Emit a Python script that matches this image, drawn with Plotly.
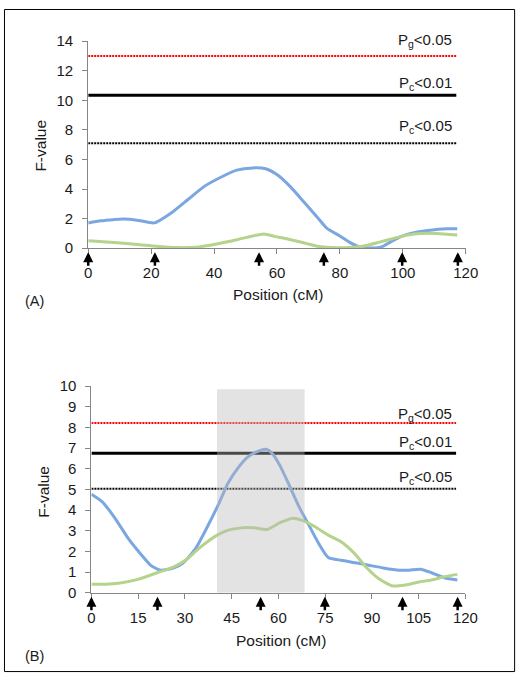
import plotly.graph_objects as go

# ---------------- data ----------------
# Panel A
posA_blue = [0, 4, 8, 11, 16, 21, 26.5, 31.8, 36.9, 42, 47.2, 52.3, 56.4, 60.5, 64.6, 68.7,
             72.8, 75.9, 80, 83.1, 86.2, 90.2, 93.3, 96.4, 100, 103.6, 108.7, 113.8, 117.3]
fA_blue = [1.71, 1.85, 1.93, 1.97, 1.88, 1.71, 2.4, 3.31, 4.18, 4.78, 5.28, 5.43, 5.37, 4.9, 4.08, 3.09,
           2.1, 1.34, 0.83, 0.39, 0.09, 0.02, 0.09, 0.46, 0.83, 1.05, 1.22, 1.31, 1.31]
posA_green = [0, 8.2, 16.4, 21.5, 28.5, 34.6, 40.8, 47.2, 52.3, 55.9, 59.5, 62.6, 68.7, 72.8, 77,
              83.1, 87.2, 92.3, 97.4, 101.5, 105.6, 110.8, 117.3]
fA_green = [0.5, 0.39, 0.24, 0.13, 0.04, 0.07, 0.28, 0.57, 0.83, 0.96, 0.78, 0.66, 0.35, 0.13, 0.04,
            0.04, 0.13, 0.39, 0.68, 0.89, 1.0, 1.0, 0.89]
thresholdsA = [13.0, 10.35, 7.09]

# Panel B
posB_blue = [0, 3.5, 7.7, 11.8, 16, 19.1, 22.2, 26.3, 29.4, 33.5, 37.7, 40.8, 43.9, 47, 50.1, 53.2,
             56.1, 58.4, 60.5, 63.6, 66.7, 69.8, 72.9, 76, 80.1, 85.3, 89.4, 93.6, 98.8, 101.9,
             105.5, 109.1, 113.3, 117.4]
fB_blue = [4.77, 4.4, 3.58, 2.63, 1.84, 1.32, 1.09, 1.2, 1.44, 2.16, 3.34, 4.29, 5.32, 6.03, 6.56, 6.83,
           6.94, 6.67, 6.15, 5.16, 4.13, 3.26, 2.39, 1.71, 1.57, 1.44, 1.32, 1.2, 1.09, 1.09,
           1.14, 0.97, 0.73, 0.62]
posB_green = [0, 4.7, 8.7, 14.9, 21.1, 26.3, 30.4, 34.6, 39.8, 43.9, 48, 52.2, 56.3, 60.5, 64.6, 67.7,
              71.9, 76, 80.1, 84.3, 88.4, 92.5, 96.7, 100.8, 105, 109.1, 113.3, 117.4]
fB_green = [0.41, 0.41, 0.46, 0.65, 0.97, 1.24, 1.6, 2.16, 2.74, 3.03, 3.14, 3.14, 3.06, 3.39, 3.61, 3.5,
            3.18, 2.79, 2.47, 1.92, 1.2, 0.65, 0.33, 0.38, 0.52, 0.62, 0.78, 0.89]
thresholdsB = [8.21, 6.75, 5.03]
qtl_interval = [40.3, 68.4]
qtl_top = 9.84

threshold_labels = ["P<sub>g</sub><0.05", "P<sub>c</sub><0.01", "P<sub>c</sub><0.05"]
threshold_span = [0, 117]
markers = [0, 21.2, 54.3, 74.9, 99.8, 117.5]
xticksA = [0, 20, 40, 60, 80, 100, 120]
yticksA = [0, 2, 4, 6, 8, 10, 12, 14]
xticksB = [0, 15, 30, 45, 60, 75, 90, 105, 120]
yticksB = [0, 1, 2, 3, 4, 5, 6, 7, 8, 9, 10]

# ---------------- figure ----------------
W, H = 531, 682
BLUE = "#7aa6e2"
GREEN = "#b5d38c"
AXC = "#868686"
TXT = "#1a1a1a"
FONT = "Liberation Sans, Arial, sans-serif"

fig = go.Figure()

thr_styles = [dict(color="#ff0000", width=2, dash="2px,1px"),
              dict(color="#000000", width=3),
              dict(color="#000000", width=2, dash="2px,1px")]

for thr, xa, ya in [(thresholdsA, "x", "y"), (thresholdsB, "x2", "y2")]:
    for v, st in zip(thr, thr_styles):
        fig.add_trace(go.Scatter(x=threshold_span, y=[v, v], mode="lines", line=st,
                                 xaxis=xa, yaxis=ya, showlegend=False, hoverinfo="skip"))

for xs, ys, col, xa, ya in [(posA_blue, fA_blue, BLUE, "x", "y"),
                            (posA_green, fA_green, GREEN, "x", "y"),
                            (posB_blue, fB_blue, BLUE, "x2", "y2"),
                            (posB_green, fB_green, GREEN, "x2", "y2")]:
    fig.add_trace(go.Scatter(x=xs, y=ys, mode="lines",
                             line=dict(color=col, width=3, shape="spline", smoothing=0.6),
                             xaxis=xa, yaxis=ya, showlegend=False))

axis_common = dict(showline=True, linecolor=AXC, linewidth=1, ticks="outside", ticklen=5,
                   tickcolor=AXC, tickwidth=1, showgrid=False, zeroline=False,
                   tickfont=dict(family=FONT, size=15, color=TXT), fixedrange=True)

fig.update_layout(
    margin=dict(l=0, r=0, t=0, b=0),
    paper_bgcolor="white", plot_bgcolor="rgba(0,0,0,0)",
    xaxis=dict(domain=[87 / W, 477 / W], range=[0, 120], tickvals=xticksA,
               anchor="y", ticklabelstandoff=6, **axis_common),
    yaxis=dict(domain=[1 - 245.3 / H, 1 - 33 / H], range=[0, 14], tickvals=yticksA,
               anchor="x", ticklabelstandoff=6, **axis_common),
    xaxis2=dict(domain=[90.3 / W, 476.7 / W], range=[0, 120], tickvals=xticksB,
                anchor="y2", ticklabelstandoff=6, **axis_common),
    yaxis2=dict(domain=[1 - 598.7 / H, 1 - 386.7 / H], range=[0, 10], tickvals=yticksB,
                anchor="x2", ticklabelstandoff=6, **axis_common),
)

# QTL interval (semi-transparent overlay, above traces)
fig.add_shape(type="rect", xref="x2", yref="y2", x0=qtl_interval[0], x1=qtl_interval[1],
              y0=0, y1=qtl_top, fillcolor="rgba(185,185,185,0.4)", line=dict(width=0),
              layer="above")

# outer border
fig.add_shape(type="rect", xref="paper", yref="paper", x0=0.5 / W, x1=527.5 / W,
              y0=1 - 679.5 / H, y1=1 - 0.5 / H, line=dict(color="black", width=1))

# threshold labels
label_shiftA = [15, 12, 17]
label_shiftB = [9, 11, 11]
for thr, shifts, xa, ya in [(thresholdsA, label_shiftA, "x", "y"),
                            (thresholdsB, label_shiftB, "x2", "y2")]:
    for v, lab, s in zip(thr, threshold_labels, shifts):
        fig.add_annotation(x=116.3, y=v, xref=xa, yref=ya, text=lab, showarrow=False,
                           xanchor="right", yanchor="middle", yshift=s,
                           font=dict(family=FONT, size=15, color=TXT))

# marker arrows
for xa, ya in [("x", "y"), ("x2", "y2")]:
    for m in markers:
        fig.add_annotation(x=m, y=0, xref=xa, yref=ya, text="", showarrow=True,
                           ax=0, ay=15, axref="pixel", ayref="pixel", yshift=-4,
                           arrowhead=2, arrowsize=0.8, arrowwidth=2.5, arrowcolor="black")

# axis titles and panel labels
texts = [
    ("Position (cM)", 282.7, 293.3, 0, 15.5), ("F-value", 37.3, 140, -90, 15.5), ("(A)", 31.5, 299, 0, 14.5),
    ("Position (cM)", 285.7, 647.3, 0, 15.5), ("F-value", 41.4, 495, -90, 15.5), ("(B)", 31, 664, 0, 14.5),
]
for t, px, py, ang, fs in texts:
    fig.add_annotation(x=px / W, y=1 - py / H, xref="paper", yref="paper", text=t,
                       showarrow=False, xanchor="center", yanchor="middle", textangle=ang,
                       font=dict(family=FONT, size=fs, color=TXT))

# the graph div is pinned to the top-left corner of the page and fills the window,
# so the page's default body margin does not add any offset or scroll area
fig.write_html(
    "out.html",
    default_width="100vw; position:absolute; left:0; top:0; margin:0",
    default_height="100vh",
    config={"displayModeBar": False, "responsive": True},
)
